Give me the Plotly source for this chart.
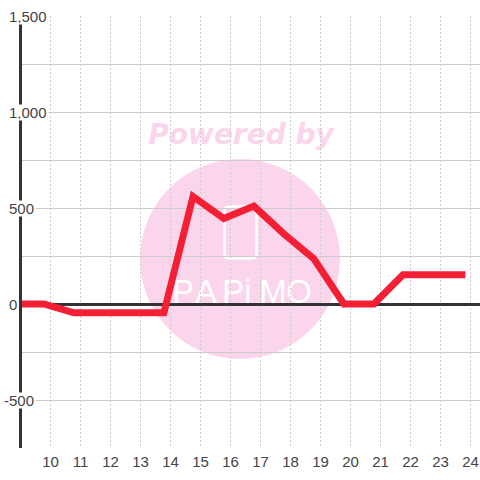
import plotly.graph_objects as go

hours = [8.88, 9.78, 10.78, 11.78, 12.78, 13.78, 14.75, 15.78, 16.78, 17.78, 18.78, 19.78, 20.78, 21.75, 22.78, 23.83]
values = [0, 0, -46, -46, -46, -46, 560, 445, 510, 365, 235, 0, 0, 152, 152, 152]
x_ticks = list(range(10, 25))
y_ticks = [-500, 0, 500, 1000, 1500]
y_labels = ["-500", "0", "500", "1,000", "1,500"]
y_label_shift = [-20, -15, -15, -15, -15]
y_label_bg = ["white", "rgba(0,0,0,0)", "white", "white", "white"]
mark_letters = ["P", "A", "P", "i", "M", "O"]
mark_letter_px = [183, 206, 233, 248, 273, 299]

L, T, W, H = 22, 16, 458, 432
def px(x): return (x - L) / W
def py(y): return (T + H - y) / H

PINK = "#fbd5ec"
TXT = "#444444"
GRID = "#cccccc"

def rounded(x0, y0, x1, y1, r):
    a, b, c, d = px(x0), px(x1), py(y0), py(y1)
    rx, ry = r / W, r / H
    return (f"M{a+rx},{c} L{b-rx},{c} Q{b},{c} {b},{c-ry} L{b},{d+ry} Q{b},{d} {b-rx},{d} "
            f"L{a+rx},{d} Q{a},{d} {a},{d+ry} L{a},{c-ry} Q{a},{c} {a+rx},{c} Z")

shapes = [
    dict(type="circle", xref="paper", yref="paper", layer="below", x0=px(140), x1=px(340), y0=py(359), y1=py(159),
         fillcolor=PINK, line=dict(width=0)),
    dict(type="path", xref="paper", yref="paper", layer="below", path=rounded(224.5, 206.5, 256.5, 258.5, 5),
         fillcolor="rgba(0,0,0,0)", line=dict(color="white", width=2.5)),
    dict(type="rect", xref="paper", yref="paper", layer="below", x0=px(140), x1=px(342), y0=py(148), y1=py(116),
         fillcolor="rgba(0,0,0,0)", line=dict(width=0),
         label=dict(text="<b><i>Powered by</i></b>", textposition="middle center",
                    font=dict(family="DejaVu Sans", size=28, color=PINK))),
]
for ch, cx in zip(mark_letters, mark_letter_px):
    shapes.append(dict(type="rect", xref="paper", yref="paper", layer="below",
                       x0=px(cx - 15), x1=px(cx + 15), y0=py(306), y1=py(270),
                       fillcolor="rgba(0,0,0,0)", line=dict(width=0),
                       label=dict(text=ch, textposition="middle center",
                                  font=dict(family="Liberation Sans", size=33, color="white"))))

annotations = [
    dict(xref="paper", yref="y", x=0, y=v, xanchor="left", yanchor="middle", xshift=s, text=t, showarrow=False,
         bgcolor=bg, borderpad=1, height=13, font=dict(family="Liberation Sans", size=15, color=TXT))
    for v, t, s, bg in zip(y_ticks, y_labels, y_label_shift, y_label_bg)
]

fig = go.Figure(go.Scatter(x=hours, y=values, mode="lines", cliponaxis=False,
                           line=dict(color="#f21f35", width=7), hoverinfo="skip"))
fig.update_layout(
    width=480, height=480, autosize=False, showlegend=False,
    margin=dict(l=L, r=480 - L - W, t=T, b=480 - T - H, pad=0),
    paper_bgcolor="white", plot_bgcolor="rgba(0,0,0,0)",
    shapes=shapes, annotations=annotations,
    xaxis=dict(range=[9.05, 24.317], tickmode="array", tickvals=x_ticks, ticktext=[str(v) for v in x_ticks],
               showgrid=True, gridcolor=GRID, griddash="2px,2px", gridwidth=1, zeroline=False, showline=False,
               ticks="", tickangle=0, ticklabelstandoff=3, layer="below traces",
               tickfont=dict(family="Liberation Sans", size=15, color=TXT)),
    yaxis=dict(range=[-750, 1500], tick0=-750, dtick=250, showgrid=True, gridcolor=GRID, gridwidth=1,
               zeroline=True, zerolinecolor="#333333", zerolinewidth=3, layer="below traces",
               showline=True, linecolor="#333333", linewidth=3, ticks="", showticklabels=False),
)
fig.write_html("out.html", config=dict(displayModeBar=False),
               post_script="document.body.style.margin='0';document.documentElement.style.overflow='hidden';"
                           "document.querySelectorAll('.js-line').forEach(function(e){e.style.strokeLinejoin='miter';});")
